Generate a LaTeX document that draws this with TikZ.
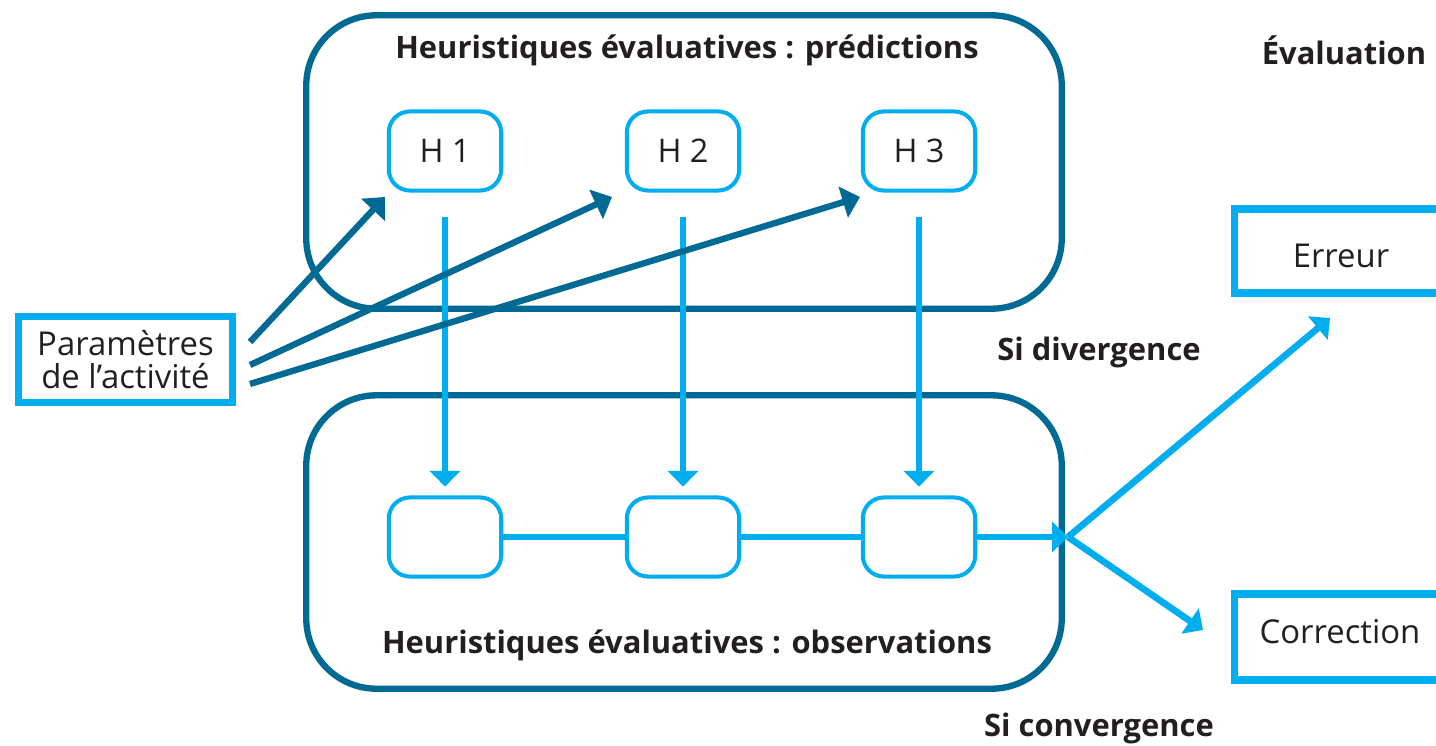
\documentclass[tikz,border=0pt]{standalone}
\usepackage{fontspec}
\setmainfont{Open Sans}
\usetikzlibrary{arrows.meta}
\definecolor{dblue}{HTML}{006A94}
\definecolor{lblue}{HTML}{00AEEF}
\definecolor{txt}{HTML}{231F20}
\tikzset{
  bigbox/.style={draw=dblue, line width=3.6pt, rounded corners=40pt, minimum width=430pt, minimum height=167pt, inner sep=0pt},
  smallbox/.style={draw=lblue, line width=2.3pt, rounded corners=12pt, minimum width=64pt, minimum height=45pt, inner sep=0pt, text=txt, font=\fontsize{18.5}{21}\selectfont},
  sqbox/.style={draw=lblue, line width=4.2pt, inner sep=0pt, text=txt, font=\fontsize{18.7}{20}\selectfont, align=center},
  title/.style={text=txt, font=\fontsize{17.6}{20}\selectfont\bfseries, inner sep=0pt},
  larr/.style={draw=lblue, line width=3.8pt, -{Triangle[length=9pt,width=17pt]}},
  lline/.style={draw=lblue, line width=3.8pt},
  darr/.style={draw=dblue, line width=3.6pt, -{Triangle[length=10pt,width=18pt]}},
}
\begin{document}
\begin{tikzpicture}[x=0.02cm,y=-0.02cm]
\useasboundingbox (0,0) rectangle (1436,746);
\clip (0,0) rectangle (1436,746);
% big boxes
\node[bigbox] (top) at (684,162) {};
\node[bigbox] (bot) at (684,542) {};
\node[title] (ttop) at (687,50) {Heuristiques évaluatives : prédictions};
\node[title] (tbot) at (687,645) {Heuristiques évaluatives : observations};
% small boxes
\node[smallbox] (h1) at (445,151) {H 1};
\node[smallbox] (h2) at (683,151) {H 2};
\node[smallbox] (h3) at (919,151) {H 3};
\node[smallbox] (o1) at (445,537) {};
\node[smallbox] (o2) at (683,537) {};
\node[smallbox] (o3) at (919,537) {};
% vertical arrows
\draw[larr, shorten <=14pt, shorten >=5pt] (h1.south) -- (o1.north);
\draw[larr, shorten <=14pt, shorten >=5pt] (h2.south) -- (o2.north);
\draw[larr, shorten <=14pt, shorten >=5pt] (h3.south) -- (o3.north);
% horizontal chain
\draw[lline] (o1.east) -- (o2.west);
\draw[lline] (o2.east) -- (o3.west);
\coordinate (j) at (1068,537);
\draw[larr] (o3.east) -- (j);
% outcomes
\node[sqbox, minimum width=128pt, minimum height=48pt] (err) at (1347,251) {};
\node[text=txt, font=\fontsize{18.7}{20}\selectfont, inner sep=0pt] (errt) at (1341,256) {Erreur};
\node[sqbox, minimum width=128pt, minimum height=49pt] (cor) at (1347,637) {};
\node[text=txt, font=\fontsize{18.7}{20}\selectfont, inner sep=0pt] (cort) at (1340,632) {Correction};
\coordinate (te) at (1330,318);
\coordinate (tc) at (1203,630);
\draw[larr] (j) -- (te);
\draw[larr] (j) -- (tc);
% labels
\node[title] (eval) at (1344,50) {Évaluation};
\node[title] (div) at (1099,352) {Si divergence};
\node[title] (conv) at (1099,728) {Si convergence};
% parametres
\node[sqbox, minimum width=122pt, minimum height=49pt] (par) at (125.5,359.5) {Paramètres\\[-1pt]de l’activité};
\coordinate (p1) at (250,342);
\coordinate (p2) at (250,365);
\coordinate (p3) at (250,384);
\coordinate (t1) at (385,197);
\coordinate (t2) at (612,197);
\coordinate (t3) at (860,197);
\draw[darr] (p1) -- (t1);
\draw[darr] (p2) -- (t2);
\draw[darr] (p3) -- (t3);
\end{tikzpicture}
\end{document}
